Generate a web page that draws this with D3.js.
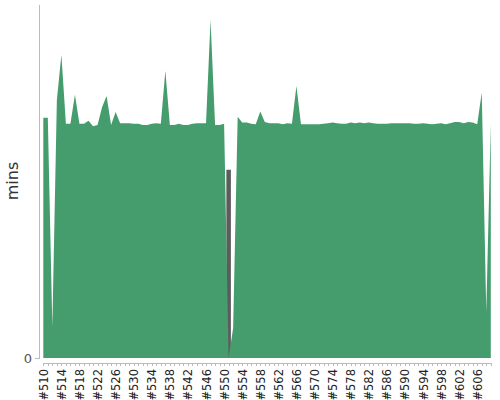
<!DOCTYPE html>
<html lang="en">
<head>
    <meta charset="UTF-8">
    <title>Build time trend</title>
    <script src="https://d3js.org/d3.v7.min.js"></script>
    <style>
        body { margin: 0; background: #fff; font-family: "DejaVu Sans", sans-serif; }
        svg { display: block; }
        .axis path, .axis line { stroke: #bbb; shape-rendering: crispEdges; }
        .y-axis text { font-size: 13px; fill: #555; font-family: "DejaVu Sans", sans-serif; }
        .x-axis text { font-size: 11.5px; fill: #222; font-family: "DejaVu Sans", sans-serif; }
        .y-label { font-size: 16px; fill: #333; }
    </style>
</head>
<body>
<svg width="500" height="400"></svg>

<script>
    // build numbers (x categories)
    const builds = [
        510, 511, 512, 513, 514, 515, 516, 517, 518, 519,
        520, 521, 522, 523, 524, 525, 526, 527, 528, 529,
        530, 531, 532, 533, 534, 535, 536, 537, 538, 539,
        540, 541, 542, 543, 544, 545, 546, 547, 548, 549,
        550, 551, 552, 553, 554, 555, 556, 557, 558, 559,
        560, 561, 562, 563, 564, 565, 566, 567, 568, 569,
        570, 571, 572, 573, 574, 575, 576, 577, 578, 579,
        580, 581, 582, 583, 584, 585, 586, 587, 588, 589,
        590, 591, 592, 593, 594, 595, 596, 597, 598, 599,
        600, 601, 602, 603, 604, 605, 606, 607, 608, 609
    ];

    // duration (mins) of successful builds, 0 where the build did not succeed
    const successMins = [
        40.7, 40.7, 5.3, 43.7, 51.4, 39.7, 39.7, 44.6, 39.7, 39.7,
        40.2, 39.3, 39.5, 42.5, 44.4, 39.5, 41.7, 39.8, 39.8, 39.8,
        39.7, 39.7, 39.5, 39.5, 39.7, 39.8, 39.7, 48.7, 39.5, 39.5,
        39.7, 39.5, 39.5, 39.7, 39.8, 39.8, 39.8, 57.3, 39.5, 39.5,
        39.7, 0, 5.1, 40.9, 39.9, 39.9, 39.7, 39.6, 41.8, 40.0,
        39.8, 39.8, 39.8, 39.6, 39.8, 39.7, 46.1, 39.6, 39.6, 39.6,
        39.6, 39.6, 39.7, 39.8, 39.9, 39.8, 39.7, 39.7, 39.9, 39.8,
        39.9, 39.8, 39.9, 39.8, 39.7, 39.7, 39.7, 39.8, 39.8, 39.8,
        39.8, 39.8, 39.7, 39.7, 39.8, 39.7, 39.6, 39.7, 39.8, 39.6,
        39.8, 40.0, 40.0, 39.8, 40.0, 39.9, 39.6, 45.0, 7.8, 39.8
    ];

    // aborted builds and their duration (mins)
    const abortedBuilds = [551];
    const abortedMins = [31.9];

    const yTicks = [0];
    const yMax = 60;

    const svg = d3.select("svg");

    const x = d3.scalePoint()
        .domain(builds)
        .range([43.3, 490.8]);

    const y = d3.scaleLinear()
        .domain([0, yMax])
        .range([358, 4]);

    const success = builds.map((b, i) => ({ build: b, mins: successMins[i] }));
    const aborted = builds.map(b => {
        const k = abortedBuilds.indexOf(b);
        return { build: b, mins: k >= 0 ? abortedMins[k] : 0 };
    });

    const area = d3.area()
        .x(d => x(d.build))
        .y0(y(0))
        .y1(d => y(d.mins));

    // aborted drawn as steps, behind the green
    svg.append("path")
        .datum(aborted)
        .attr("fill", "#5c5c5c")
        .attr("d", area.curve(d3.curveStep));

    svg.append("path")
        .datum(success)
        .attr("fill", "#459d6d")
        .attr("d", area.curve(d3.curveLinear));

    // y axis
    svg.append("g")
        .attr("class", "axis y-axis")
        .attr("transform", "translate(39,0)")
        .call(d3.axisLeft(y).tickValues(yTicks).tickSize(4).tickSizeOuter(0).tickPadding(3));

    svg.append("text")
        .attr("class", "y-label")
        .attr("transform", "translate(18,181) rotate(-90)")
        .attr("text-anchor", "middle")
        .text("mins");

    // x axis
    const xAxis = svg.append("g")
        .attr("class", "axis x-axis")
        .attr("transform", "translate(0,363)")
        .call(d3.axisBottom(x)
            .tickSize(3)
            .tickSizeOuter(0)
            .tickFormat((b, i) => i % 4 === 0 ? "#" + b : ""));

    xAxis.selectAll("text")
        .attr("transform", "rotate(-90)")
        .attr("x", -6)
        .attr("y", 0)
        .attr("dy", "0.35em")
        .style("text-anchor", "end");
</script>
</body>
</html>
